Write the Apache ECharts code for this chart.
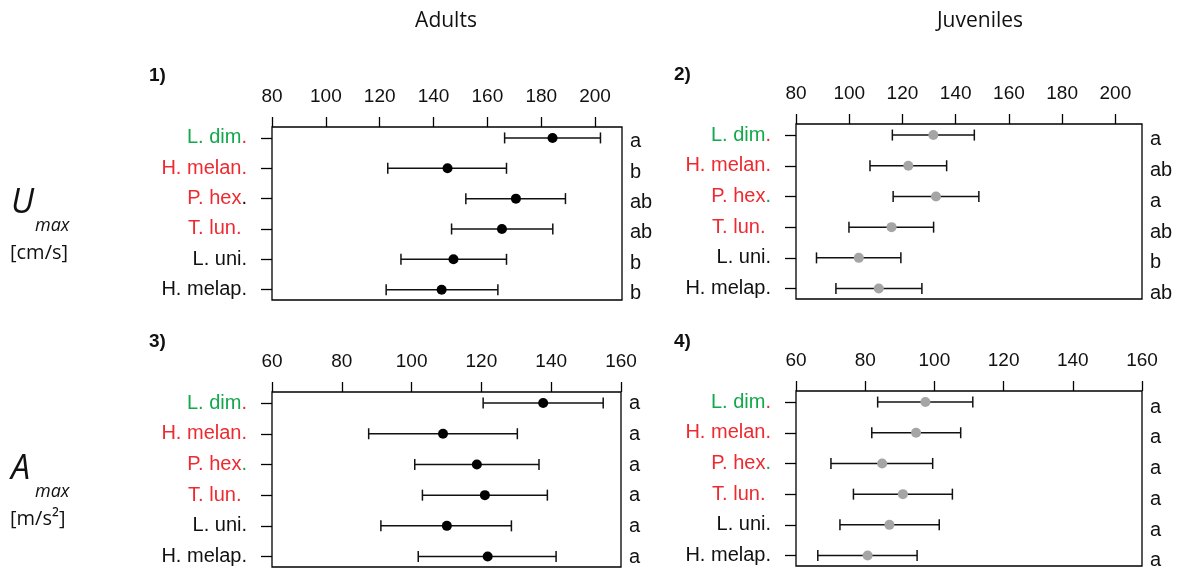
<!DOCTYPE html>
<html><head><meta charset="utf-8">
<script src="https://cdn.jsdelivr.net/npm/echarts@6/dist/echarts.min.js"></script>
<style>html,body{margin:0;padding:0;background:#fff}#c{width:1187px;height:571px}</style>
</head><body><div id="c"></div>
<script>
// ---- data ----
const categories = ['L. dim.', 'H. melan.', 'P. hex.', 'T. lun. ', 'L. uni.', 'H. melap.'];
const rows = [1, 2, 3, 4, 5, 6];
// name colour / trailing-dot colour per category
const nameColors = ['green', 'red', 'red', 'red', 'black', 'black'];
const dotColorsAdultU = ['red', 'red', 'black', 'red', 'black', 'black'];
const dotColorsOther = ['red', 'red', 'green', 'red', 'black', 'black'];

// Panel 1: Adults, Umax [cm/s]
const mean1 = [184.2, 145.2, 170.6, 165.4, 147.4, 143.0];
const low1  = [166.4, 123.0, 152.0, 146.7, 127.9, 122.4];
const high1 = [202.0, 167.1, 189.0, 184.3, 167.1, 163.9];
const letters1 = ['a', 'b', 'ab', 'ab', 'b', 'b'];
// Panel 2: Juveniles, Umax
const mean2 = [131.6, 122.2, 132.6, 115.9, 103.6, 111.1];
const low2  = [116.2, 107.8, 116.5, 99.9, 87.7, 95.0];
const high2 = [147.0, 136.6, 148.7, 131.7, 119.4, 127.3];
const letters2 = ['a', 'ab', 'a', 'ab', 'b', 'ab'];
// Panel 3: Adults, Amax [m/s2]
const mean3 = [137.7, 109.0, 118.7, 121.0, 110.1, 121.8];
const low3  = [120.5, 87.7, 100.9, 103.1, 91.2, 101.9];
const high3 = [154.9, 130.3, 136.5, 138.9, 128.6, 141.4];
const letters3 = ['a', 'a', 'a', 'a', 'a', 'a'];
// Panel 4: Juveniles, Amax
const mean4 = [97.4, 94.7, 84.9, 90.9, 87.0, 80.7];
const low4  = [83.6, 81.9, 70.1, 76.6, 72.7, 66.3];
const high4 = [111.1, 107.6, 99.5, 105.2, 101.4, 95.0];
const letters4 = ['a', 'a', 'a', 'a', 'a', 'a'];

const uRange = {min: 80, max: 210, interval: 20, showMax: false};
const aRange = {min: 60, max: 160, interval: 20, showMax: true};

// ---- styling ----
const COL = {green: '#12a84b', red: '#ee2a31', black: '#111'};
const FONT = '"Liberation Sans", Arial, sans-serif';
const FONT2 = '"Open Sans", "Noto Sans", sans-serif';
const FS = 19;
const YMIN = 0.64, YMAX = 6.34;

const panels = [
  {grid: {left: 272, top: 127, width: 350, height: 173}, mean: mean1, low: low1, high: high1, letters: letters1, range: uRange, dots: dotColorsAdultU, pt: '#000', letterShift: 0.13},
  {grid: {left: 796, top: 124, width: 346, height: 175}, mean: mean2, low: low2, high: high2, letters: letters2, range: uRange, dots: dotColorsOther, pt: '#a5a5a5', letterShift: 0.16},
  {grid: {left: 272, top: 392, width: 349, height: 175}, mean: mean3, low: low3, high: high3, letters: letters3, range: aRange, dots: dotColorsOther, pt: '#000', letterShift: 0.02},
  {grid: {left: 796, top: 391, width: 346, height: 175}, mean: mean4, low: low4, high: high4, letters: letters4, range: aRange, dots: dotColorsOther, pt: '#a5a5a5', letterShift: 0.17}
];

const rich = {
  green: {color: COL.green, fontSize: 20, fontFamily: FONT},
  red: {color: COL.red, fontSize: 20, fontFamily: FONT},
  black: {color: COL.black, fontSize: 20, fontFamily: FONT}
};

function catLabel(dots) {
  return function (v) {
    const i = Math.round(v) - 1;
    const s = categories[i];
    const m = s.match(/^(.*)\.(\s*)$/);
    return '{' + nameColors[i] + '|' + m[1] + '}{' + dots[i] + '|.' + m[2] + '}';
  };
}

const grids = [], xAxes = [], yAxes = [], series = [];
panels.forEach((p, k) => {
  grids.push(Object.assign({show: true, borderColor: '#000', borderWidth: 1.3, backgroundColor: 'transparent',
    containLabel: false, outerBoundsMode: 'none'}, p.grid));
  xAxes.push({
    type: 'value', gridIndex: k, position: 'top', min: p.range.min, max: p.range.max, interval: p.range.interval,
    axisLine: {show: false}, splitLine: {show: false},
    axisTick: {show: true, inside: false, length: 10, lineStyle: {color: '#000', width: 1.3}},
    axisLabel: {color: '#111', fontSize: FS, fontFamily: FONT, margin: 21, showMaxLabel: p.range.showMax, showMinLabel: true}
  });
  yAxes.push({
    type: 'value', gridIndex: k, inverse: true, min: YMIN, max: YMAX, position: 'left',
    axisLine: {show: false}, splitLine: {show: false},
    axisTick: {show: true, inside: false, length: 11, customValues: rows, lineStyle: {color: '#000', width: 1.3}},
    axisLabel: {customValues: rows, margin: 25, formatter: catLabel(p.dots), rich: rich}
  });
  yAxes.push({
    type: 'value', gridIndex: k, inverse: true, min: YMIN - p.letterShift, max: YMAX - p.letterShift, position: 'right',
    axisLine: {show: false}, splitLine: {show: false}, axisTick: {show: false},
    axisLabel: {customValues: rows, margin: 8, color: '#111', fontSize: 20, fontFamily: FONT,
      formatter: (v) => p.letters[Math.round(v) - 1]}
  });
  const barData = rows.map((r, i) => [p.low[i], p.high[i], r]);
  series.push({
    type: 'custom', xAxisIndex: k, yAxisIndex: 2 * k, data: barData, silent: true,
    renderItem: function (params, api) {
      const a = api.coord([api.value(0), api.value(2)]);
      const b = api.coord([api.value(1), api.value(2)]);
      const h = 5.5;
      const st = {stroke: '#111', lineWidth: 1.5};
      return {type: 'group', children: [
        {type: 'line', shape: {x1: a[0], y1: a[1], x2: b[0], y2: b[1]}, style: st},
        {type: 'line', shape: {x1: a[0], y1: a[1] - h, x2: a[0], y2: a[1] + h}, style: st},
        {type: 'line', shape: {x1: b[0], y1: b[1] - h, x2: b[0], y2: b[1] + h}, style: st}
      ]};
    }
  });
  series.push({
    type: 'scatter', xAxisIndex: k, yAxisIndex: 2 * k, symbol: 'circle', symbolSize: 10,
    itemStyle: {color: p.pt, opacity: 1}, silent: true,
    data: rows.map((r, i) => [p.mean[i], r])
  });
});

function txt(x, y, text, font, align) {
  return {type: 'text', x: x, y: y, style: {text: text, font: font, fill: '#111', textAlign: align || 'left', textVerticalAlign: 'middle'}};
}
const gText = [
  txt(446, 21, 'Adults', '21px ' + FONT2, 'center'),
  txt(980, 21, 'Juveniles', '21px ' + FONT2, 'center'),
  txt(149, 76, '1)', 'bold 19px ' + FONT),
  txt(674, 75, '2)', 'bold 19px ' + FONT),
  txt(149, 342, '3)', 'bold 19px ' + FONT),
  txt(674, 342, '4)', 'bold 19px ' + FONT),
  txt(11, 203, 'U', 'italic 34px ' + FONT2),
  txt(35, 226, 'max', 'italic 18px ' + FONT2),
  txt(10, 253, '[cm/s]', '20px ' + FONT2),
  txt(11, 469, 'A', 'italic 34px ' + FONT2),
  txt(35, 492, 'max', 'italic 18px ' + FONT2),
  txt(10, 519, '[m/s²]', '20px ' + FONT2)
];

const chart = echarts.init(document.getElementById('c'), null, {renderer: 'canvas'});
chart.setOption({
  animation: false,
  backgroundColor: '#fff',
  grid: grids, xAxis: xAxes, yAxis: yAxes, series: series,
  graphic: {elements: gText}
});
</script></body></html>
